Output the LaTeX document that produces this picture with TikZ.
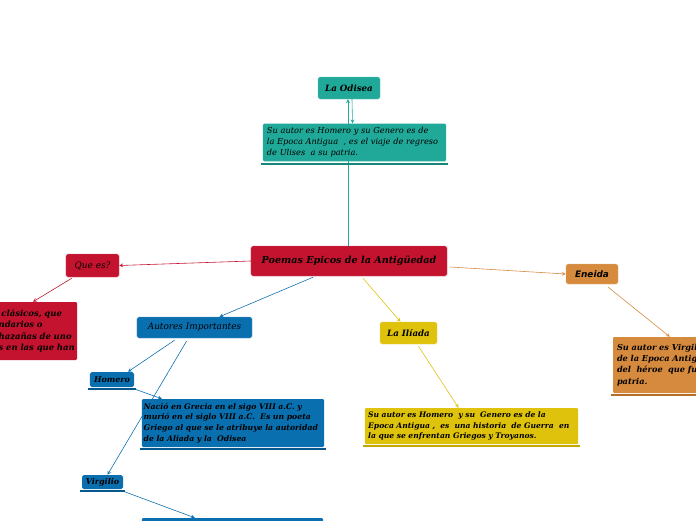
\documentclass[tikz,border=0pt]{standalone}
\usepackage{fontspec}
\setmainfont{DejaVu Serif}
\setsansfont{DejaVu Sans}
\usetikzlibrary{calc,backgrounds}

\definecolor{tealC}{HTML}{20A898}
\definecolor{tealD}{HTML}{16867A}
\definecolor{redC}{HTML}{C4132F}
\definecolor{blueC}{HTML}{0A6FAF}
\definecolor{blueD}{HTML}{07588C}
\definecolor{yellowC}{HTML}{DEC20B}
\definecolor{yellowD}{HTML}{C2A800}
\definecolor{orangeC}{HTML}{D68A3E}
\definecolor{orangeD}{HTML}{B56F28}

\begin{document}
\begin{tikzpicture}[x=0.03cm,y=-0.03cm,
    box/.style={rectangle,rounded corners=1.5pt,inner sep=0.1cm,text=black,
      font=\fontsize{7.4}{9}\selectfont\itshape\bfseries},
    desc/.style={rectangle,rounded corners=1pt,inner sep=0.12cm,text=black,align=left,
      font=\fontsize{7}{9.3}\selectfont\itshape},
    bar/.style={line width=1.6pt},
    link/.style={->,line width=0.5pt,>=stealth}]
  \useasboundingbox (0,0) rectangle (696,520);
  \clip (0,0) rectangle (696,520);

  % centre
  \node[box,fill=redC,draw=redC!70!white,minimum width=5.88cm,minimum height=0.9cm,
    font=\fontsize{8.2}{10}\selectfont\itshape\bfseries] (main) at (349,261) {Poemas Epicos de la Antigüedad};

  % La Odisea
  \node[box,fill=tealC,draw=tealC!70!white,minimum width=1.86cm,minimum height=0.66cm] (odisea) at (349,88) {La Odisea};
  \node[desc,fill=tealC,minimum width=5.49cm,minimum height=1.05cm,text width=5.25cm] (odisead) at (354.5,142.5)
    {Su autor es Homero y su Genero es de\\la Epoca Antigua\ \ , es el viaje de regreso\\de Ulises\ \ a su patria.};

  % Que es?
  \node[box,fill=redC,draw=redC!70!white,minimum width=1.59cm,minimum height=0.69cm,
    font=\fontsize{7.6}{9}\selectfont\itshape] (quees) at (92.5,265.5) {Que es?};
  \node[desc,fill=redC,minimum width=2.4cm,minimum height=1.74cm,text width=2.3cm,inner sep=0.05cm,
    font=\fontsize{7.2}{9.6}\selectfont\itshape\bfseries] (queesd) at (37,331)
    {\ clásicos, que\\ndarios o\\hazañas de uno\\s en las que han};

  % Autores
  \node[box,fill=blueC,draw=blueC!70!white,minimum width=3.45cm,minimum height=0.63cm,
    font=\fontsize{7.6}{9}\selectfont\itshape] (autores) at (194.5,327.5) {Autores Importantes};
  \node[box,fill=blueC,minimum width=1.32cm,minimum height=0.45cm,inner sep=0.05cm,
    font=\fontsize{6.8}{8}\selectfont\itshape\bfseries] (homero) at (112,379.5) {Homero};
  \node[desc,fill=blueC,minimum width=5.46cm,minimum height=1.44cm,text width=5.36cm,inner sep=0.05cm,
    font=\fontsize{6.6}{9.2}\selectfont\itshape\bfseries] (homerod) at (233,423)
    {Nació en Grecia en el sigo VIII a.C. y\\murió en el siglo VIII a.C.\ \ Es un poeta\\Griego al que se le atribuye la autoridad\\de la Aliada y la\ \ Odisea};
  \node[box,fill=blueC,minimum width=1.23cm,minimum height=0.42cm,inner sep=0.05cm,
    font=\fontsize{6.8}{8}\selectfont\itshape\bfseries] (virgilio) at (102.5,482) {Virgilio};
  \node[desc,fill=blueC,minimum width=5.43cm,minimum height=1.26cm] (virgiliod) at (232.5,539) {};

  % La Iliada
  \node[box,fill=yellowC,draw=yellowC!70!white,minimum width=1.71cm,minimum height=0.66cm] (iliada) at (408.5,333) {La Ilíada};
  \node[desc,fill=yellowC,minimum width=6.39cm,minimum height=1.08cm,text width=6.2cm,inner sep=0.1cm,
    font=\fontsize{6.5}{9.2}\selectfont\itshape\bfseries] (iliadad) at (471.5,426)
    {Su autor es Homero\ \ y su\ \ Genero es de la\\Epoca Antigua ,\ \ es\ \ una historia\ \ de Guerra\ \ en\\la que se enfrentan Griegos y Troyanos.};

  % Eneida
  \node[box,fill=orangeC,draw=orangeC!70!white,minimum width=1.56cm,minimum height=0.6cm,
    font=\fontsize{7.6}{9}\selectfont\sffamily\itshape\bfseries] (eneida) at (592,274) {Eneida};
  \node[desc,fill=orangeC,minimum width=4.5cm,minimum height=1.68cm,text width=4.26cm,
    font=\fontsize{7}{9.6}\selectfont\itshape\bfseries] (eneidad) at (688,365)
    {Su autor es Virgilio\\de la Epoca Antigua\\del\ \ héroe\ \ que fue\\patria.};

  % bars under the boxes
  \foreach \n/\c in {odisead/tealD,homero/blueD,homerod/blueD,virgilio/blueD,iliadad/yellowD,eneidad/orangeD}
    \draw[bar,\c] ($(\n.south west)+(-2,2)$) -- ($(\n.south east)+(2,2)$);

  \begin{scope}[on background layer]
    \draw[link,tealC] ($(main.north)+(-1,0)$) -- ($(odisea.south)+(-1,0)$);
    \draw[link,tealC] ($(odisea.south)+(3,0)$) -- ($(odisead.north)+(-2,0)$);
    \draw[link,redC] (main.west) -- (quees.east);
    \draw[link,redC] ($(quees.south west)+(6,1)$) -- ($(queesd.north)+(-4,0)$);
    \draw[link,blueC] ($(main.south)+(-36,1)$) -- ($(autores.north)+(25,0)$);
    \draw[link,blueC] ($(autores.south)+(-20,2)$) -- ($(homero.north)+(16,0)$);
    \draw[link,blueC] ($(autores.south)+(-8,3)$) -- ($(virgilio.north)+(5,0)$);
    \draw[link,blueC] ($(homero.south east)+(1,2)$) -- ($(homerod.north west)+(20,0)$);
    \draw[link,blueC] ($(virgilio.south east)+(0,2)$) -- ($(virgiliod.north west)+(53,0)$);
    \draw[link,yellowC] ($(main.south)+(14,2)$) -- ($(iliada.north)+(-8,0)$);
    \draw[link,yellowC] ($(iliada.south)+(10,2)$) -- ($(iliadad.north)+(-13,0)$);
    \draw[link,orangeC] ($(main.east)+(3,6)$) -- (eneida.west);
    \draw[link,orangeC] ($(eneida.south east)+(-10,3)$) -- ($(eneidad.north west)+(57,0)$);
  \end{scope}
\end{tikzpicture}
\end{document}
